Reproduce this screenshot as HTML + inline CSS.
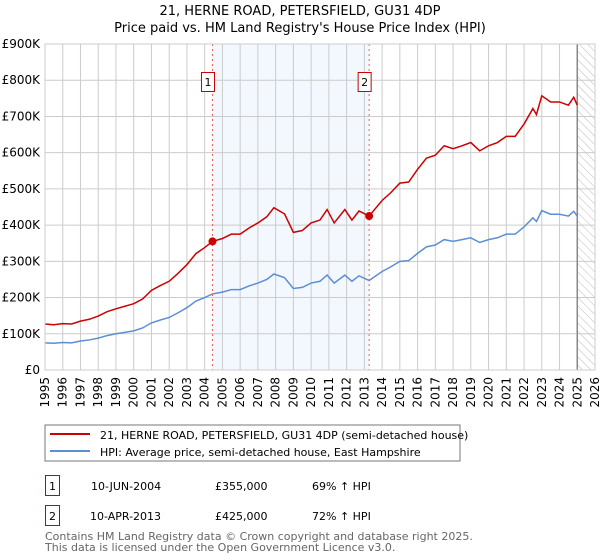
<!DOCTYPE html>
<html><head><meta charset="utf-8"><style>
body{margin:0;background:#fff;}
svg{display:block;font-family:"DejaVu Sans","Liberation Sans",sans-serif;}
</style></head><body>
<svg id="chart" width="600" height="560" viewBox="0 0 600 560">
<text x="300" y="15" text-anchor="middle" font-size="13">21, HERNE ROAD, PETERSFIELD, GU31 4DP</text>
<text x="300" y="32" text-anchor="middle" font-size="13">Price paid vs. HM Land Registry's House Price Index (HPI)</text>
<defs><pattern id="hatch" width="6" height="6" patternUnits="userSpaceOnUse" patternTransform="rotate(-45)"><line x1="0" y1="0" x2="0" y2="6" stroke="#bbb" stroke-width="1"/></pattern></defs>
<g id="grid"></g><g id="marks"></g>
<rect x="45" y="425" width="415" height="36" fill="#fff" stroke="#777"/>
<line x1="50" y1="434" x2="90" y2="434" stroke="#cc0000" stroke-width="2"/>
<text x="100" y="439" font-size="11">21, HERNE ROAD, PETERSFIELD, GU31 4DP (semi-detached house)</text>
<line x1="50" y1="451" x2="90" y2="451" stroke="#5b8fd4" stroke-width="2"/>
<text x="100" y="456" font-size="11">HPI: Average price, semi-detached house, East Hampshire</text>
<g>
<rect x="45.5" y="475.5" width="14" height="20" fill="#fff" stroke="#cc0000"/>
<text x="52.5" y="490" font-size="11" text-anchor="middle">1</text>
<text x="91" y="490" font-size="11">10-JUN-2004</text>
<text x="215" y="490" font-size="11">£355,000</text>
<text x="312" y="490" font-size="11">69% ↑ HPI</text></g>
<g>
<rect x="45.5" y="505.5" width="14" height="20" fill="#fff" stroke="#cc0000"/>
<text x="52.5" y="520" font-size="11" text-anchor="middle">2</text>
<text x="90" y="520" font-size="11">10-APR-2013</text>
<text x="215" y="520" font-size="11">£425,000</text>
<text x="312" y="520" font-size="11">72% ↑ HPI</text></g>
<text x="45" y="540" font-size="11" fill="#666">Contains HM Land Registry data © Crown copyright and database right 2025.</text>
<text x="45" y="551" font-size="11" fill="#666">This data is licensed under the Open Government Licence v3.0.</text>
</svg>
<script>
const dates=[1995,1995.5,1996,1996.5,1997,1997.5,1998,1998.5,1999,1999.5,2000,2000.5,2001,2001.5,2002,2002.5,2003,2003.5,2004,2004.44,2005,2005.5,2006,2006.5,2007,2007.5,2007.9,2008.5,2009,2009.5,2010,2010.5,2010.9,2011.3,2011.9,2012.3,2012.7,2013.27,2014,2014.5,2015,2015.5,2016,2016.5,2017,2017.5,2018,2018.5,2019,2019.5,2020,2020.5,2021,2021.5,2022,2022.5,2022.7,2023,2023.5,2024,2024.5,2024.8,2025];
const hpi=[75,74,76,75,80,83,88,95,100,104,108,116,130,138,145,158,172,190,200,210,215,222,222,232,240,250,265,255,225,228,240,245,262,240,262,245,260,247,272,285,300,302,322,340,345,360,355,360,365,352,360,365,375,375,395,420,410,440,430,430,425,438,425];
const price=[127,125,128,127,135,140,149,161,169,176,183,196,220,233,245,267,291,321,338,355,363,375,375,392,406,423,448,431,380,385,406,414,443,406,443,414,439,425,468,490,516,519,554,585,593,619,611,619,628,605,619,628,645,645,679,722,705,757,740,740,731,753,731];
const saleDates=[2004.44,2013.27];
const salePrices=[355,425];
const saleLabels=["1","2"];
const yTicks=[0,100,200,300,400,500,600,700,800,900];
const yTickLabels=["£0","£100K","£200K","£300K","£400K","£500K","£600K","£700K","£800K","£900K"];
const xStart=1995,xEnd=2026;
const X=v=>45+(v-xStart)*(550/(xEnd-xStart));
const Y=v=>370-v*(326/900);
const NS="http://www.w3.org/2000/svg";
function mk(tag,attrs,parent){const e=document.createElementNS(NS,tag);for(const k in attrs)e.setAttribute(k,attrs[k]);parent.appendChild(e);return e;}
const grid=document.getElementById('grid'),marks=document.getElementById('marks');
// shaded ownership region
let sh=mk('rect',{x:X(saleDates[0]),y:44,width:X(saleDates[1])-X(saleDates[0]),height:326,fill:'#eef3fd',opacity:0.7},grid);


let ht=mk('rect',{x:X(2025),y:44,width:595-X(2025),height:326,fill:'url(#hatch)'},grid);


yTicks.forEach((t,i)=>{
 mk('line',{x1:45,x2:595,y1:Y(t),y2:Y(t),stroke:'#ccc'},grid);
 let tx=mk('text',{x:40,y:Y(t)+4,'text-anchor':'end','font-size':12},grid);tx.textContent=yTickLabels[i];
 
 
});
for(let yr=xStart;yr<=xEnd;yr++){
 mk('line',{x1:X(yr),x2:X(yr),y1:44,y2:370,stroke:'#ccc'},grid);
 let tx=mk('text',{x:0,y:0,'text-anchor':'end','font-size':12,transform:`translate(${X(yr)+4},377) rotate(-90)`},grid);tx.textContent=yr;
 
 
}
mk('line',{x1:X(2025),x2:X(2025),y1:44,y2:370,stroke:'#888','stroke-width':1.5},grid);
let hl=mk('polyline',{points:dates.map((d,i)=>X(d)+','+Y(hpi[i])).join(' '),fill:'none',stroke:'#5b8fd4','stroke-width':1.5},marks);


let pl=mk('polyline',{points:dates.map((d,i)=>X(d)+','+Y(price[i])).join(' '),fill:'none',stroke:'#cc0000','stroke-width':1.5},marks);


saleDates.forEach((d,i)=>{
 let l=mk('line',{x1:X(d),x2:X(d),y1:44,y2:370,stroke:'#f06060','stroke-dasharray':'2,3'},marks);
 
 
 let c=mk('circle',{cx:X(d),cy:Y(salePrices[i]),r:4,fill:'#cc0000'},marks);
 
 
 let b=mk('rect',{x:X(d)-11,y:72.5,width:13,height:19,fill:'#fff',stroke:'#cc0000'},marks);
 
 
 let t=mk('text',{x:X(d)-4.5,y:86,'text-anchor':'middle','font-size':11},marks);t.textContent=saleLabels[i];
 
 
});
mk('rect',{x:45,y:44,width:550,height:326,fill:'none',stroke:'#ccc'},marks);
</script>
</body></html>
